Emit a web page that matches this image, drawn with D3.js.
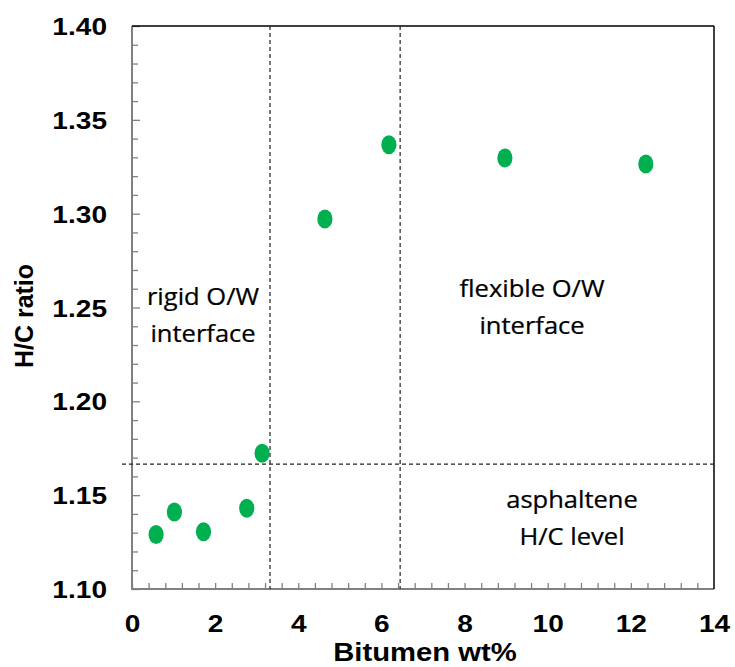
<!DOCTYPE html>
<html>
<head>
<meta charset="utf-8">
<script src="https://cdn.jsdelivr.net/npm/d3@7"></script>
<style>
  html, body { margin: 0; padding: 0; background: #fff; }
  svg { display: block; }
</style>
</head>
<body>
<svg id="chart" width="735" height="667"></svg>
<script>
// Bitumen content (wt%) and the H/C atomic ratio measured at each content
const bitumenWt = [0.58, 1.02, 1.72, 2.76, 3.13, 4.64, 6.18, 8.97, 12.36];
const hcRatio   = [1.129, 1.141, 1.1305, 1.143, 1.1723, 1.2972, 1.3367, 1.3297, 1.3265];

// Reference levels: regime boundaries on x and the asphaltene H/C level on y
const regimeBounds = [3.32, 6.45];
const asphalteneHC = [1.1665];

// Axis tick labels
const xTickLabels = [0, 2, 4, 6, 8, 10, 12, 14];
const yTickLabels = [1.10, 1.15, 1.20, 1.25, 1.30, 1.35, 1.40];

const svg = d3.select("#chart");
const plot = { left: 132, right: 714, top: 26, bottom: 589 };
const SX = 1.17;      // horizontal stretch of the bold axis text
const SX_NOTE = 1.11; // horizontal stretch of the annotation text

const x = d3.scaleLinear().domain([0, 14]).range([plot.left, plot.right]);
const y = d3.scaleLinear().domain([1.10, 1.40]).range([plot.bottom, plot.top]);

const boldFont = "'Liberation Sans', Arial, sans-serif";
const bodyFont = "'Open Sans', 'Noto Sans', sans-serif";

// Minor ticks pointing inward
const xMinor = d3.range(0, 14.001, 0.4).filter(v => v < 13.99);
const yMinor = d3.range(1.10, 1.4001, 0.01).map(v => +v.toFixed(2));

const gx = svg.append("g").attr("transform", `translate(0,${plot.bottom})`);
gx.call(d3.axisTop(x).tickValues(xMinor).tickSize(6).tickFormat(""));
gx.select(".domain").remove();
gx.selectAll(".tick line").attr("stroke", "#808080").attr("stroke-width", 1.3);

const gy = svg.append("g").attr("transform", `translate(${plot.left},0)`);
gy.call(d3.axisRight(y).tickValues(yMinor).tickSize(6).tickFormat(""));
gy.select(".domain").remove();
gy.selectAll(".tick line").attr("stroke", "#808080").attr("stroke-width", 1.3)
  .attr("x2", d => (Math.round(d * 100) % 5 === 0 ? 8 : 6));

// Tick labels
const gxl = svg.append("g").attr("transform", `translate(0,${plot.bottom})`);
gxl.call(d3.axisBottom(x).tickValues(xTickLabels).tickSize(0).tickPadding(26).tickFormat(d3.format("d")));
gxl.select(".domain").remove();
gxl.selectAll("text")
  .attr("font-family", boldFont).attr("font-weight", "bold").attr("font-size", 24)
  .attr("fill", "#000").attr("dy", "0.71em")
  .attr("transform", `scale(${SX},1)`);

const gyl = svg.append("g").attr("transform", `translate(${plot.left},0)`);
gyl.call(d3.axisLeft(y).tickValues(yTickLabels).tickSize(0).tickFormat(d3.format(".2f")));
gyl.select(".domain").remove();
gyl.selectAll("text")
  .attr("font-family", boldFont).attr("font-weight", "bold").attr("font-size", 24)
  .attr("fill", "#000").attr("x", -25 / SX).attr("dy", "0.36em")
  .attr("transform", `scale(${SX},1)`);

// Frame: grey axis lines on left/bottom, black on top/right
svg.append("line").attr("x1", plot.left).attr("x2", plot.left)
  .attr("y1", plot.top).attr("y2", plot.bottom + 1)
  .attr("stroke", "#808080").attr("stroke-width", 2);
svg.append("line").attr("x1", plot.left - 1).attr("x2", plot.right)
  .attr("y1", plot.bottom).attr("y2", plot.bottom)
  .attr("stroke", "#808080").attr("stroke-width", 2);
svg.append("line").attr("x1", plot.left).attr("x2", plot.right)
  .attr("y1", plot.top).attr("y2", plot.top)
  .attr("stroke", "#000").attr("stroke-width", 1.5);
svg.append("line").attr("x1", plot.right).attr("x2", plot.right)
  .attr("y1", plot.top).attr("y2", plot.bottom)
  .attr("stroke", "#000").attr("stroke-width", 1.5);

// Dashed reference lines
svg.selectAll(".vref").data(regimeBounds).join("line")
  .attr("class", "vref")
  .attr("x1", d => x(d)).attr("x2", d => x(d))
  .attr("y1", plot.top).attr("y2", plot.bottom)
  .attr("stroke", "#222").attr("stroke-width", 1.2).attr("stroke-dasharray", "4,3");
svg.selectAll(".href").data(asphalteneHC).join("line")
  .attr("class", "href")
  .attr("x1", plot.left - 10).attr("x2", plot.right)
  .attr("y1", d => y(d)).attr("y2", d => y(d))
  .attr("stroke", "#222").attr("stroke-width", 1.2).attr("stroke-dasharray", "4,3");

// Data points
svg.selectAll(".pt").data(d3.zip(bitumenWt, hcRatio)).join("ellipse")
  .attr("class", "pt")
  .attr("cx", d => x(d[0])).attr("cy", d => y(d[1]))
  .attr("rx", 7.6).attr("ry", 9.5)
  .attr("fill", "#00b050");

// Region annotations
function note(cx, baseline, lines) {
  const g = svg.append("g").attr("transform", `translate(${cx},${baseline})`);
  lines.forEach((t, i) => {
    g.append("text")
      .attr("y", i * 37)
      .attr("text-anchor", "middle")
      .attr("font-family", bodyFont).attr("font-size", 23)
      .attr("fill", "#000")
      .attr("stroke", "#000").attr("stroke-width", 0.25)
      .attr("transform", `scale(${SX_NOTE},1)`)
      .text(t);
  });
}
note(203, 305, ["rigid O/W", "interface"]);
note(532, 297, ["flexible O/W", "interface"]);
note(572, 508, ["asphaltene", "H/C level"]);

// Axis titles
svg.append("g").attr("transform", "translate(425,661)")
  .append("text")
  .attr("text-anchor", "middle")
  .attr("font-family", boldFont).attr("font-weight", "bold").attr("font-size", 25)
  .attr("transform", `scale(${SX},1)`)
  .text("Bitumen wt%");

svg.append("text")
  .attr("transform", "translate(33,316) rotate(-90)")
  .attr("text-anchor", "middle")
  .attr("font-family", boldFont).attr("font-weight", "bold").attr("font-size", 25)
  .text("H/C ratio");
</script>
</body>
</html>
